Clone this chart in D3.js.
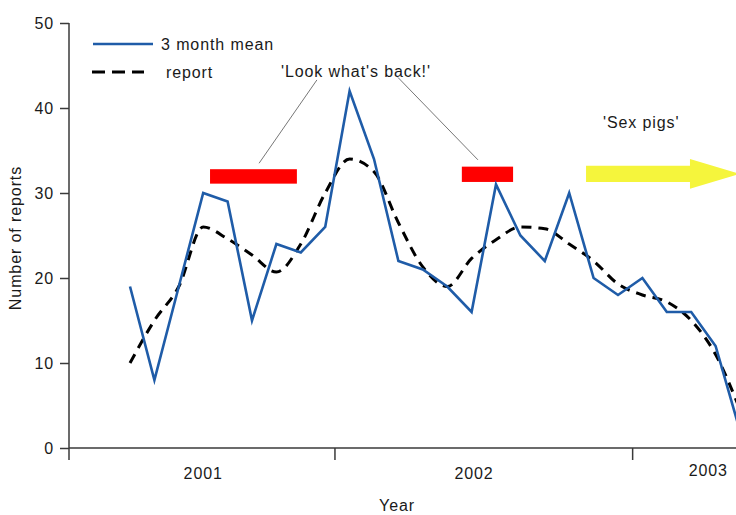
<!DOCTYPE html>
<html>
<head>
<meta charset="utf-8">
<script src="https://cdn.jsdelivr.net/npm/d3@7"></script>
<style>
  body { margin: 0; background: #fff; }
  text { font-family: "Liberation Sans", Arial, sans-serif; fill: #1a1a1a; }
</style>
</head>
<body>
<div id="plot"></div>
<script>
// month index of each point (first point is a few months before 2001 label)
var monthIndex = [0, 1, 2, 3, 4, 5, 6, 7, 8, 9, 10, 11, 12, 13, 14, 15, 16, 17, 18, 19, 20, 21, 22, 23, 24, 25];
var meanValues = [19, 8, 19, 30, 29, 15, 24, 23, 26, 42, 34, 22, 21, 19, 16, 31, 25, 22, 30, 20, 18, 20, 16, 16, 12, 2];
var reportValues = [10, 15, 19, 26, 24.6, 22.7, 20.7, 24, 30, 34, 32.5, 26.5, 21.3, 19, 22.3, 24.5, 26, 25.8, 24, 22, 19.3, 18, 17.2, 15, 11, 4.5];

var yTicks = [0, 10, 20, 30, 40, 50];
var yearLabels = ["2001", "2002", "2003"];
var yearLabelMonths = [3.0, 14.1, 23.7];
var yearTickMonths = [8.4, 20.6];

var seriesNames = ["3 month mean", "report"];

// annotations (month index / value units)
var barFrom = [3.28, 13.6], barTo = [6.84, 15.7];
var barLow = [31.1, 31.3], barHigh = [32.8, 33.1];
var leaderStart = [[7.66, 43.3], [10.98, 43.6]];
var leaderEnd = [[5.29, 33.5], [14.26, 33.9]];
var lookLabel = ["'Look what's back!'", 9.26, 43.7];
var pigsLabel = ["'Sex pigs'", 20.95, 37.6];
// arrow: shaft start, head base, tip; shaft low/high, head low/high, mid
var arrowX = [18.69, 22.95, 25.0];
var arrowY = [31.3, 33.2, 30.5, 34.0, 32.25];

var width = 736, height = 515;

var svg = d3.select("#plot").append("svg")
    .attr("width", width)
    .attr("height", height);

var x = d3.scaleLinear().domain([0, 24]).range([130, 715.6]);
var y = d3.scaleLinear().domain([0, 50]).range([448, 23]);

var axisColor = "#3a3a3a";

// y axis
var yAxis = svg.append("g")
    .attr("transform", "translate(" + x(-2.5) + ",0)")
    .call(d3.axisLeft(y).tickValues(yTicks).tickSize(9).tickPadding(6));
yAxis.select(".domain").remove();
yAxis.selectAll("line").attr("stroke", axisColor).attr("stroke-width", 1.5);
yAxis.selectAll("text")
    .style("font-size", "16px")
    .style("letter-spacing", "0.9px")
    .attr("fill", "#1a1a1a");
svg.append("line")
    .attr("x1", x(-2.5)).attr("x2", x(-2.5))
    .attr("y1", y(50)).attr("y2", y(0) + 12)
    .attr("stroke", axisColor).attr("stroke-width", 1.5);

// x axis
svg.append("line")
    .attr("x1", x(-2.5)).attr("x2", width)
    .attr("y1", y(0)).attr("y2", y(0))
    .attr("stroke", axisColor).attr("stroke-width", 1.5);
svg.selectAll(".yeartick")
    .data(yearTickMonths)
    .enter()
    .append("line")
    .attr("x1", d => x(d)).attr("x2", d => x(d))
    .attr("y1", y(0)).attr("y2", y(0) + 12)
    .attr("stroke", axisColor).attr("stroke-width", 1.5);
svg.selectAll(".yearlabel")
    .data(yearLabels)
    .enter()
    .append("text")
    .attr("x", (d, i) => x(yearLabelMonths[i]))
    .attr("y", (d, i) => i == 2 ? 476 : 479)
    .attr("text-anchor", "middle")
    .style("font-size", "16px")
    .style("letter-spacing", "0.9px")
    .text(d => d);

svg.append("text")
    .attr("x", 397).attr("y", 511)
    .attr("text-anchor", "middle")
    .style("font-size", "16px")
    .style("letter-spacing", "0.9px")
    .text("Year");

svg.append("text")
    .attr("transform", "translate(21,238) rotate(-90)")
    .attr("text-anchor", "middle")
    .style("font-size", "16px")
    .style("letter-spacing", "0.9px")
    .text("Number of reports");

// red bars
svg.selectAll(".redbar")
    .data(barFrom)
    .enter()
    .append("rect")
    .attr("x", (d, i) => x(d))
    .attr("y", (d, i) => y(barHigh[i]))
    .attr("width", (d, i) => x(barTo[i]) - x(d))
    .attr("height", (d, i) => y(barLow[i]) - y(barHigh[i]))
    .attr("fill", "#ff0000");

// leader lines
svg.selectAll(".leader")
    .data(leaderStart)
    .enter()
    .append("line")
    .attr("x1", d => x(d[0])).attr("y1", d => y(d[1]))
    .attr("x2", (d, i) => x(leaderEnd[i][0])).attr("y2", (d, i) => y(leaderEnd[i][1]))
    .attr("stroke", "#777").attr("stroke-width", 1);

svg.append("text")
    .attr("x", x(lookLabel[1])).attr("y", y(lookLabel[2]))
    .attr("text-anchor", "middle")
    .style("font-size", "16px")
    .style("letter-spacing", "0.9px")
    .text(lookLabel[0]);

svg.append("text")
    .attr("x", x(pigsLabel[1])).attr("y", y(pigsLabel[2]))
    .attr("text-anchor", "middle")
    .style("font-size", "16px")
    .style("letter-spacing", "0.9px")
    .text(pigsLabel[0]);

// yellow arrow
var arrowPts = [
    [arrowX[0], arrowY[1]], [arrowX[1], arrowY[1]], [arrowX[1], arrowY[3]],
    [arrowX[2], arrowY[4]],
    [arrowX[1], arrowY[2]], [arrowX[1], arrowY[0]], [arrowX[0], arrowY[0]]
];
svg.append("polygon")
    .attr("points", arrowPts.map(p => x(p[0]) + "," + y(p[1])).join(" "))
    .attr("fill", "#f5f53c");

// lines
var meanLine = d3.line()
    .x((d, i) => x(monthIndex[i]))
    .y(d => y(d));
var reportLine = d3.line()
    .x((d, i) => x(monthIndex[i]))
    .y(d => y(d))
    .curve(d3.curveMonotoneX);

svg.append("path")
    .datum(reportValues)
    .attr("d", reportLine)
    .attr("fill", "none")
    .attr("stroke", "#000")
    .attr("stroke-width", 3)
    .attr("stroke-dasharray", "10,7");

svg.append("path")
    .datum(meanValues)
    .attr("d", meanLine)
    .attr("fill", "none")
    .attr("stroke", "#1f5ca8")
    .attr("stroke-width", 2.6)
    .attr("stroke-linejoin", "miter");

// legend
var legend = svg.append("g");
legend.append("line")
    .attr("x1", 93).attr("x2", 153).attr("y1", 44).attr("y2", 44)
    .attr("stroke", "#1f5ca8").attr("stroke-width", 2.6);
legend.append("line")
    .attr("x1", 92).attr("x2", 144).attr("y1", 72).attr("y2", 72)
    .attr("stroke", "#000").attr("stroke-width", 3)
    .attr("stroke-dasharray", "13,7");
legend.append("text")
    .attr("x", 161).attr("y", 50)
    .style("font-size", "16px")
    .style("letter-spacing", "0.9px")
    .text(seriesNames[0]);
legend.append("text")
    .attr("x", 166).attr("y", 78)
    .style("font-size", "16px")
    .style("letter-spacing", "0.9px")
    .text(seriesNames[1]);
</script>
</body>
</html>
